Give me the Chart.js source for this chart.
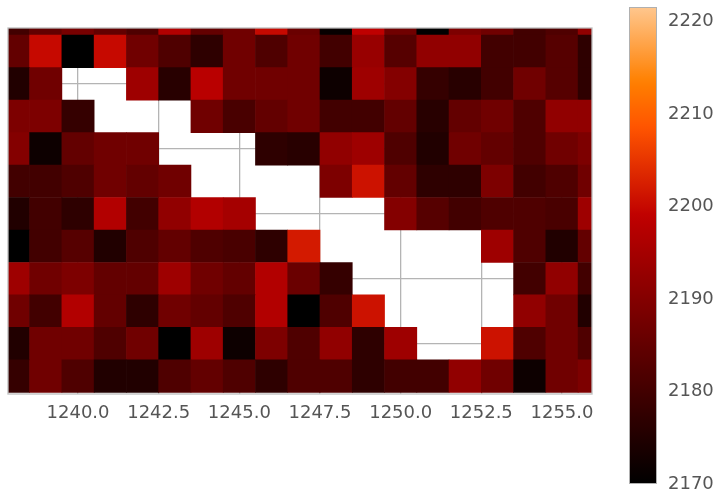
<!DOCTYPE html>
<html><head><meta charset="utf-8">
<script src="https://cdn.jsdelivr.net/npm/chart.js@4/dist/chart.umd.min.js"></script>
<style>
html,body{margin:0;padding:0;background:#fff;}
#wrap{position:relative;width:718px;height:493px;overflow:hidden;}
#main{position:absolute;left:0;top:0;}
#cbar{position:absolute;left:600px;top:0;}
</style></head><body>
<div id="wrap">
<canvas id="main" width="718" height="493"></canvas>
<canvas id="cbar" width="118" height="493"></canvas>
</div>
<script>
// ---- data ----
const xCenters = [1238,1239,1240,1241,1242,1243,1244,1245,1246,1247,1248,1249,1250,1251,1252,1253,1254,1255,1256];
const xTickValues = [1240, 1242.5, 1245, 1247.5, 1250, 1252.5, 1255];
const yGridRows = [2, 4, 6, 8, 10];
const cbarTicks = [2170, 2180, 2190, 2200, 2210, 2220];

const row00 = [2180,2185,2188,2185,2182,2197,2185,2187,2200,2186,2171,2199,2187,2170,2189,2187,2180,2182,2192];
const row01 = [2185,2200,2170,2200,2187,2182,2177,2187,2182,2187,2180,2193,2183,2192,2192,2180,2180,2183,2177];
const row02 = [2175,2187,null,null,2194,2176,2198,2187,2187,2187,2172,2194,2190,2178,2176,2180,2187,2183,2177];
const row03 = [2189,2189,2178,null,null,null,2187,2181,2185,2187,2180,2180,2185,2176,2185,2187,2182,2192,2192];
const row04 = [2190,2172,2185,2187,2187,null,null,null,2177,2176,2192,2194,2182,2175,2187,2185,2182,2187,2189];
const row05 = [2180,2180,2182,2187,2185,2187,null,null,null,null,2189,2201,2185,2177,2177,2189,2180,2182,2187];
const row06 = [2175,2180,2177,2197,2180,2192,2197,2195,null,null,null,null,2190,2183,2180,2182,2182,2181,2194];
const row07 = [2170,2180,2183,2175,2182,2185,2182,2181,2177,2202,null,null,null,null,null,2194,2182,2175,2185];
const row08 = [2194,2187,2189,2185,2185,2194,2187,2185,2197,2186,2178,null,null,null,null,null,2180,2192,2180];
const row09 = [2187,2180,2197,2185,2177,2187,2185,2182,2197,2170,2182,2201,null,null,null,null,2192,2187,2175];
const row10 = [2175,2187,2187,2182,2187,2170,2194,2172,2189,2182,2192,2177,2194,null,null,2201,2182,2187,2182];
const row11 = [2178,2187,2182,2175,2175,2182,2185,2182,2177,2182,2182,2177,2180,2180,2192,2187,2172,2187,2189];
const rows = [row00,row01,row02,row03,row04,row05,row06,row07,row08,row09,row10,row11];

const VMIN = 2170, VMAX = 2228;
function gistHeat(v){
  let t = (v - VMIN) / (VMAX - VMIN);
  t = Math.max(0, Math.min(1, t));
  const r = Math.min(1, 1.5 * t), g = Math.max(0, 2 * t - 1), b = Math.max(0, 4 * t - 3);
  return `rgb(${Math.round(r*255)},${Math.round(g*255)},${Math.round(b*255)})`;
}

const cells = [];
rows.forEach((row, r) => {
  row.forEach((v, c) => {
    if (v !== null) cells.push({x: xCenters[c], y: [r - 0.5, r + 0.5], v: v});
  });
});

const FONT = "'DejaVu Sans', sans-serif";
const GRID = '#b4b4b4';

const framePlugin = {
  id: 'frame',
  afterDraw(chart){
    const a = chart.chartArea, ctx = chart.ctx;
    ctx.save();
    ctx.strokeStyle = '#bdbdbd';
    ctx.lineWidth = 1.3;
    ctx.strokeRect(a.left, a.top, a.right - a.left, a.bottom - a.top);
    ctx.restore();
  }
};

new Chart(document.getElementById('main'), {
  type: 'bar',
  data: {
    datasets: [{
      data: cells,
      backgroundColor: (ctx) => ctx.raw ? gistHeat(ctx.raw.v) : 'rgba(0,0,0,0)',
      borderWidth: 0,
      barPercentage: 1,
      categoryPercentage: 1,
      grouped: false
    }]
  },
  options: {
    responsive: false,
    animation: false,
    events: [],
    layout: {padding: {left: 8, top: 28, right: 126, bottom: 0}},
    plugins: {legend: {display: false}, tooltip: {enabled: false}},
    scales: {
      x: {
        type: 'linear',
        min: 1237.83, max: 1255.93,
        offset: false,
        z: 1,
        afterBuildTicks: (s) => { s.ticks = xTickValues.map(v => ({value: v})); },
        afterFit: (s) => { s.height = 99; },
        grid: {color: GRID, lineWidth: 1.3, drawTicks: false, offset: false},
        border: {display: false},
        ticks: {
          autoSkip: false, maxRotation: 0, padding: 9,
          color: '#555555', font: {family: FONT, size: 18},
          callback: (v) => Number(v).toFixed(1)
        }
      },
      y: {
        type: 'linear',
        min: 0.28, max: 11.55,
        reverse: true,
        z: 1,
        afterBuildTicks: (s) => { s.ticks = yGridRows.map(v => ({value: v})); },
        afterFit: (s) => { s.width = 0; },
        grid: {color: GRID, lineWidth: 1.3, drawTicks: false},
        border: {display: false},
        ticks: {display: false}
      }
    }
  },
  plugins: [framePlugin]
});

// ---- colorbar ----
const gradientPlugin = {
  id: 'cbGradient',
  beforeDatasetsDraw(chart){
    const a = chart.chartArea, ctx = chart.ctx, y = chart.scales.y;
    const yb = y.getPixelForValue(y.min), yt = y.getPixelForValue(y.max);
    const grad = ctx.createLinearGradient(0, yb, 0, yt);
    const n = 60;
    for (let i = 0; i <= n; i++) {
      const v = y.min + (y.max - y.min) * i / n;
      grad.addColorStop(i / n, gistHeat(v));
    }
    ctx.save();
    ctx.fillStyle = grad;
    ctx.fillRect(a.left, a.top, a.right - a.left, a.bottom - a.top);
    ctx.strokeStyle = '#b0b0b0';
    ctx.lineWidth = 1;
    ctx.strokeRect(a.left + 0.5, a.top + 0.5, a.right - a.left - 1, a.bottom - a.top - 1);
    ctx.restore();
  }
};

new Chart(document.getElementById('cbar'), {
  type: 'bar',
  data: {labels: [], datasets: []},
  options: {
    responsive: false,
    animation: false,
    events: [],
    layout: {padding: {left: 29, top: 7, bottom: 9, right: 0}},
    plugins: {legend: {display: false}, tooltip: {enabled: false}},
    scales: {
      x: {display: false},
      y: {
        position: 'right',
        min: 2170, max: 2221.6,
        afterBuildTicks: (s) => { s.ticks = cbarTicks.map(v => ({value: v})); },
        afterFit: (s) => { s.width = 61; s.paddingTop = 0; s.paddingBottom = 0; },
        grid: {display: false, drawTicks: false},
        border: {display: false},
        ticks: {padding: 11, color: '#555555', font: {family: FONT, size: 18, lineHeight: 0.7},
                callback: (v) => String(v)}
      }
    }
  },
  plugins: [gradientPlugin]
});
</script>
</body></html>
